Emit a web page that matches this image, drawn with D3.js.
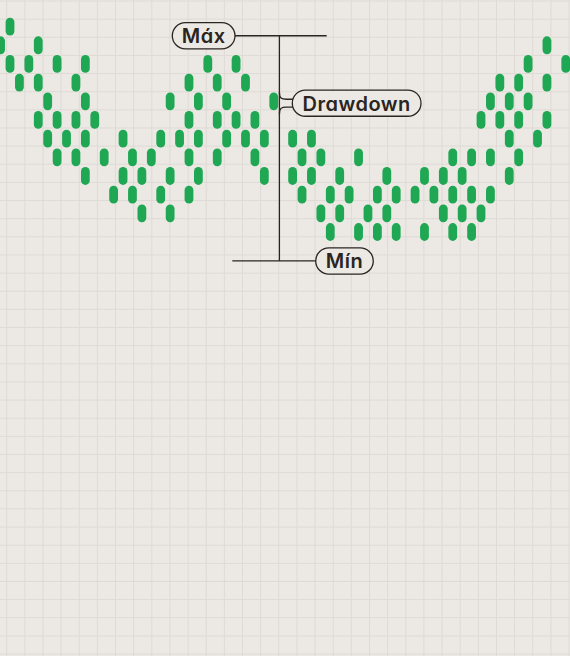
<!DOCTYPE html>
<html>
<head>
<meta charset="utf-8">
<script src="https://cdn.jsdelivr.net/npm/d3@7"></script>
<style>
  html, body { margin: 0; padding: 0; background: #ece9e5; }
  svg { display: block; }
</style>
</head>
<body>
<div id="app"></div>
<script>
// column index of every pill, one list per price level (0 = top)
const levels = [0, 1, 2, 3, 4, 5, 6, 7, 8, 9, 10, 11]
const pillsByLevel = [
  [1],
  [0, 4, 58],
  [1, 3, 6, 9, 22, 25, 56, 60],
  [2, 4, 8, 20, 23, 26, 53, 55, 58],
  [5, 9, 18, 21, 24, 29, 52, 54, 56],
  [4, 6, 8, 10, 20, 23, 25, 27, 51, 53, 55, 58],
  [5, 7, 9, 13, 17, 19, 21, 24, 26, 28, 31, 33, 54, 57],
  [6, 8, 11, 14, 16, 20, 23, 27, 32, 34, 38, 48, 50, 52, 55],
  [9, 13, 15, 18, 21, 28, 31, 33, 36, 41, 45, 47, 49, 54],
  [12, 14, 17, 20, 32, 35, 37, 40, 42, 44, 46, 48, 50, 52],
  [15, 18, 34, 36, 39, 41, 47, 49, 51],
  [35, 38, 40, 42, 45, 48, 50]
]

// annotation labels and the level they point at
const labels = ['Máx', 'Drawdown', 'Mín']
const labelLevels = [0.49, 4.1, 12.55]

const width = 570
const height = 656

function main() {
  const app = d3.select('#app')

  const svg = d3.create('svg')
    .attr('width', width)
    .attr('height', height)
    .attr('viewBox', [0, 0, width, height])

  // background + grid
  svg.append('rect')
    .attr('width', width).attr('height', height)
    .attr('fill', '#ece9e5')

  const cell = 18.14
  const grid = svg.append('g').attr('stroke', '#dedad5').attr('stroke-width', 1)
  grid.selectAll('line.v')
    .data(d3.range(6.7, width, cell))
    .join('line')
    .attr('class', 'v')
    .attr('x1', d => d).attr('x2', d => d)
    .attr('y1', 0).attr('y2', height)
  grid.selectAll('line.h')
    .data(d3.range(1, height, cell))
    .join('line')
    .attr('class', 'h')
    .attr('y1', d => d).attr('y2', d => d)
    .attr('x1', 0).attr('x2', width)

  // scales: column -> x, level -> y
  const x = d3.scaleLinear().domain([0, 60]).range([0.58, 565.78])
  const y = d3.scaleLinear().domain([0, 11]).range([26.6, 232])

  const pills = pillsByLevel.flatMap((cols, i) => cols.map(c => ({ col: c, level: levels[i] })))

  const pw = 8.8
  const ph = 17.8
  svg.append('g')
    .selectAll('rect')
    .data(pills)
    .join('rect')
    .attr('x', d => x(d.col) - pw / 2)
    .attr('y', d => y(d.level) - ph / 2)
    .attr('width', pw)
    .attr('height', ph)
    .attr('rx', pw / 2)
    .attr('fill', '#20a754')

  // annotation lines
  const ink = '#2a2521'
  const xv = x(29.6)
  const yMax = y(labelLevels[0])
  const yDD = y(labelLevels[1])
  const yMin = y(labelLevels[2])
  const ann = svg.append('g')
    .attr('stroke', ink)
    .attr('stroke-width', 1.3)
    .attr('fill', 'none')

  ann.append('line') // max line
    .attr('x1', 235).attr('x2', 326.7)
    .attr('y1', yMax).attr('y2', yMax)
  ann.append('line') // vertical drawdown span
    .attr('x1', xv).attr('x2', xv)
    .attr('y1', yMax).attr('y2', yMin)
  ann.append('line') // min line
    .attr('x1', 232.3).attr('x2', 316)
    .attr('y1', yMin).attr('y2', yMin)

  // neck from the span line to the Drawdown box
  ann.append('path')
    .attr('d', `M${xv},${yDD - 11} C${xv},${yDD - 5} ${xv + 2},${yDD - 3.9} ${xv + 7},${yDD - 3.9} L${xv + 15},${yDD - 3.9}`)
  ann.append('path')
    .attr('d', `M${xv},${yDD + 11} C${xv},${yDD + 5} ${xv + 2},${yDD + 3.9} ${xv + 7},${yDD + 3.9} L${xv + 15},${yDD + 3.9}`)

  // label boxes
  const boxes = [
    { text: labels[0], x0: 172.3, w: 62.7, cy: yMax },
    { text: labels[1], x0: 292.3, w: 128.7, cy: yDD },
    { text: labels[2], x0: 315.7, w: 57.6, cy: yMin }
  ]
  const bh = 26.2
  const lg = svg.append('g').selectAll('g').data(boxes).join('g')
  lg.append('rect')
    .attr('x', d => d.x0)
    .attr('y', d => d.cy - bh / 2)
    .attr('width', d => d.w)
    .attr('height', bh)
    .attr('rx', bh / 2)
    .attr('fill', '#ece9e5')
    .attr('stroke', ink)
    .attr('stroke-width', 1.3)
  lg.append('text')
    .attr('x', d => d.x0 + d.w / 2)
    .attr('y', d => d.cy + 7.4)
    .attr('text-anchor', 'middle')
    .attr('font-family', "Inter, 'Open Sans', sans-serif")
    .attr('font-weight', 600)
    .attr('font-size', 20)
    .attr('letter-spacing', 0.5)
    .style('font-feature-settings', "'cv11' 1, 'ss01' 0")
    .attr('fill', ink)
    .text(d => d.text)

  app.append(() => svg.node())
}

main()
</script>
</body>
</html>
